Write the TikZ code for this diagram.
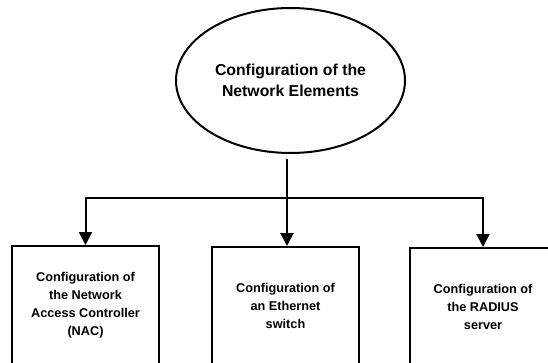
\documentclass[tikz,border=0pt]{standalone}
\usepackage{fontspec}
\setmainfont{Liberation Sans}
\usetikzlibrary{shapes.geometric,arrows.meta}
\begin{document}
\begin{tikzpicture}[x=1pt,y=-1pt,
  line width=2pt,
  arr/.style={-{Triangle[length=13pt,width=13pt]}},
  ellnode/.style={ellipse,draw,line width=2pt,minimum width=229pt,minimum height=145pt,inner sep=0pt,
    font=\bfseries\fontsize{15.8}{21.5}\selectfont,align=center},
  boxnode/.style={rectangle,draw,line width=2pt,minimum width=147pt,minimum height=118pt,inner sep=0pt,
    font=\bfseries\fontsize{12.7}{18}\selectfont,align=center}]
\useasboundingbox (0,0) rectangle (548,363);
\node[ellnode] (top) at (290.5,80.5) {Configuration of the\\Network Elements};
\node[boxnode] (nac) at (85.5,305) {Configuration of\\the Network\\Access Controller\\(NAC)};
\node[boxnode] (eth) at (285.5,306) {Configuration of\\an Ethernet\\switch};
\node[boxnode] (rad) at (483,307) {Configuration of\\the RADIUS\\server};
\coordinate (s) at (287,159);
\coordinate (j) at (287,198);
\draw[arr] (s) -- (eth.north -| s);
\draw[arr] (j) -| (nac.north);
\draw[arr] (j) -| (rad.north);
\end{tikzpicture}
\end{document}
